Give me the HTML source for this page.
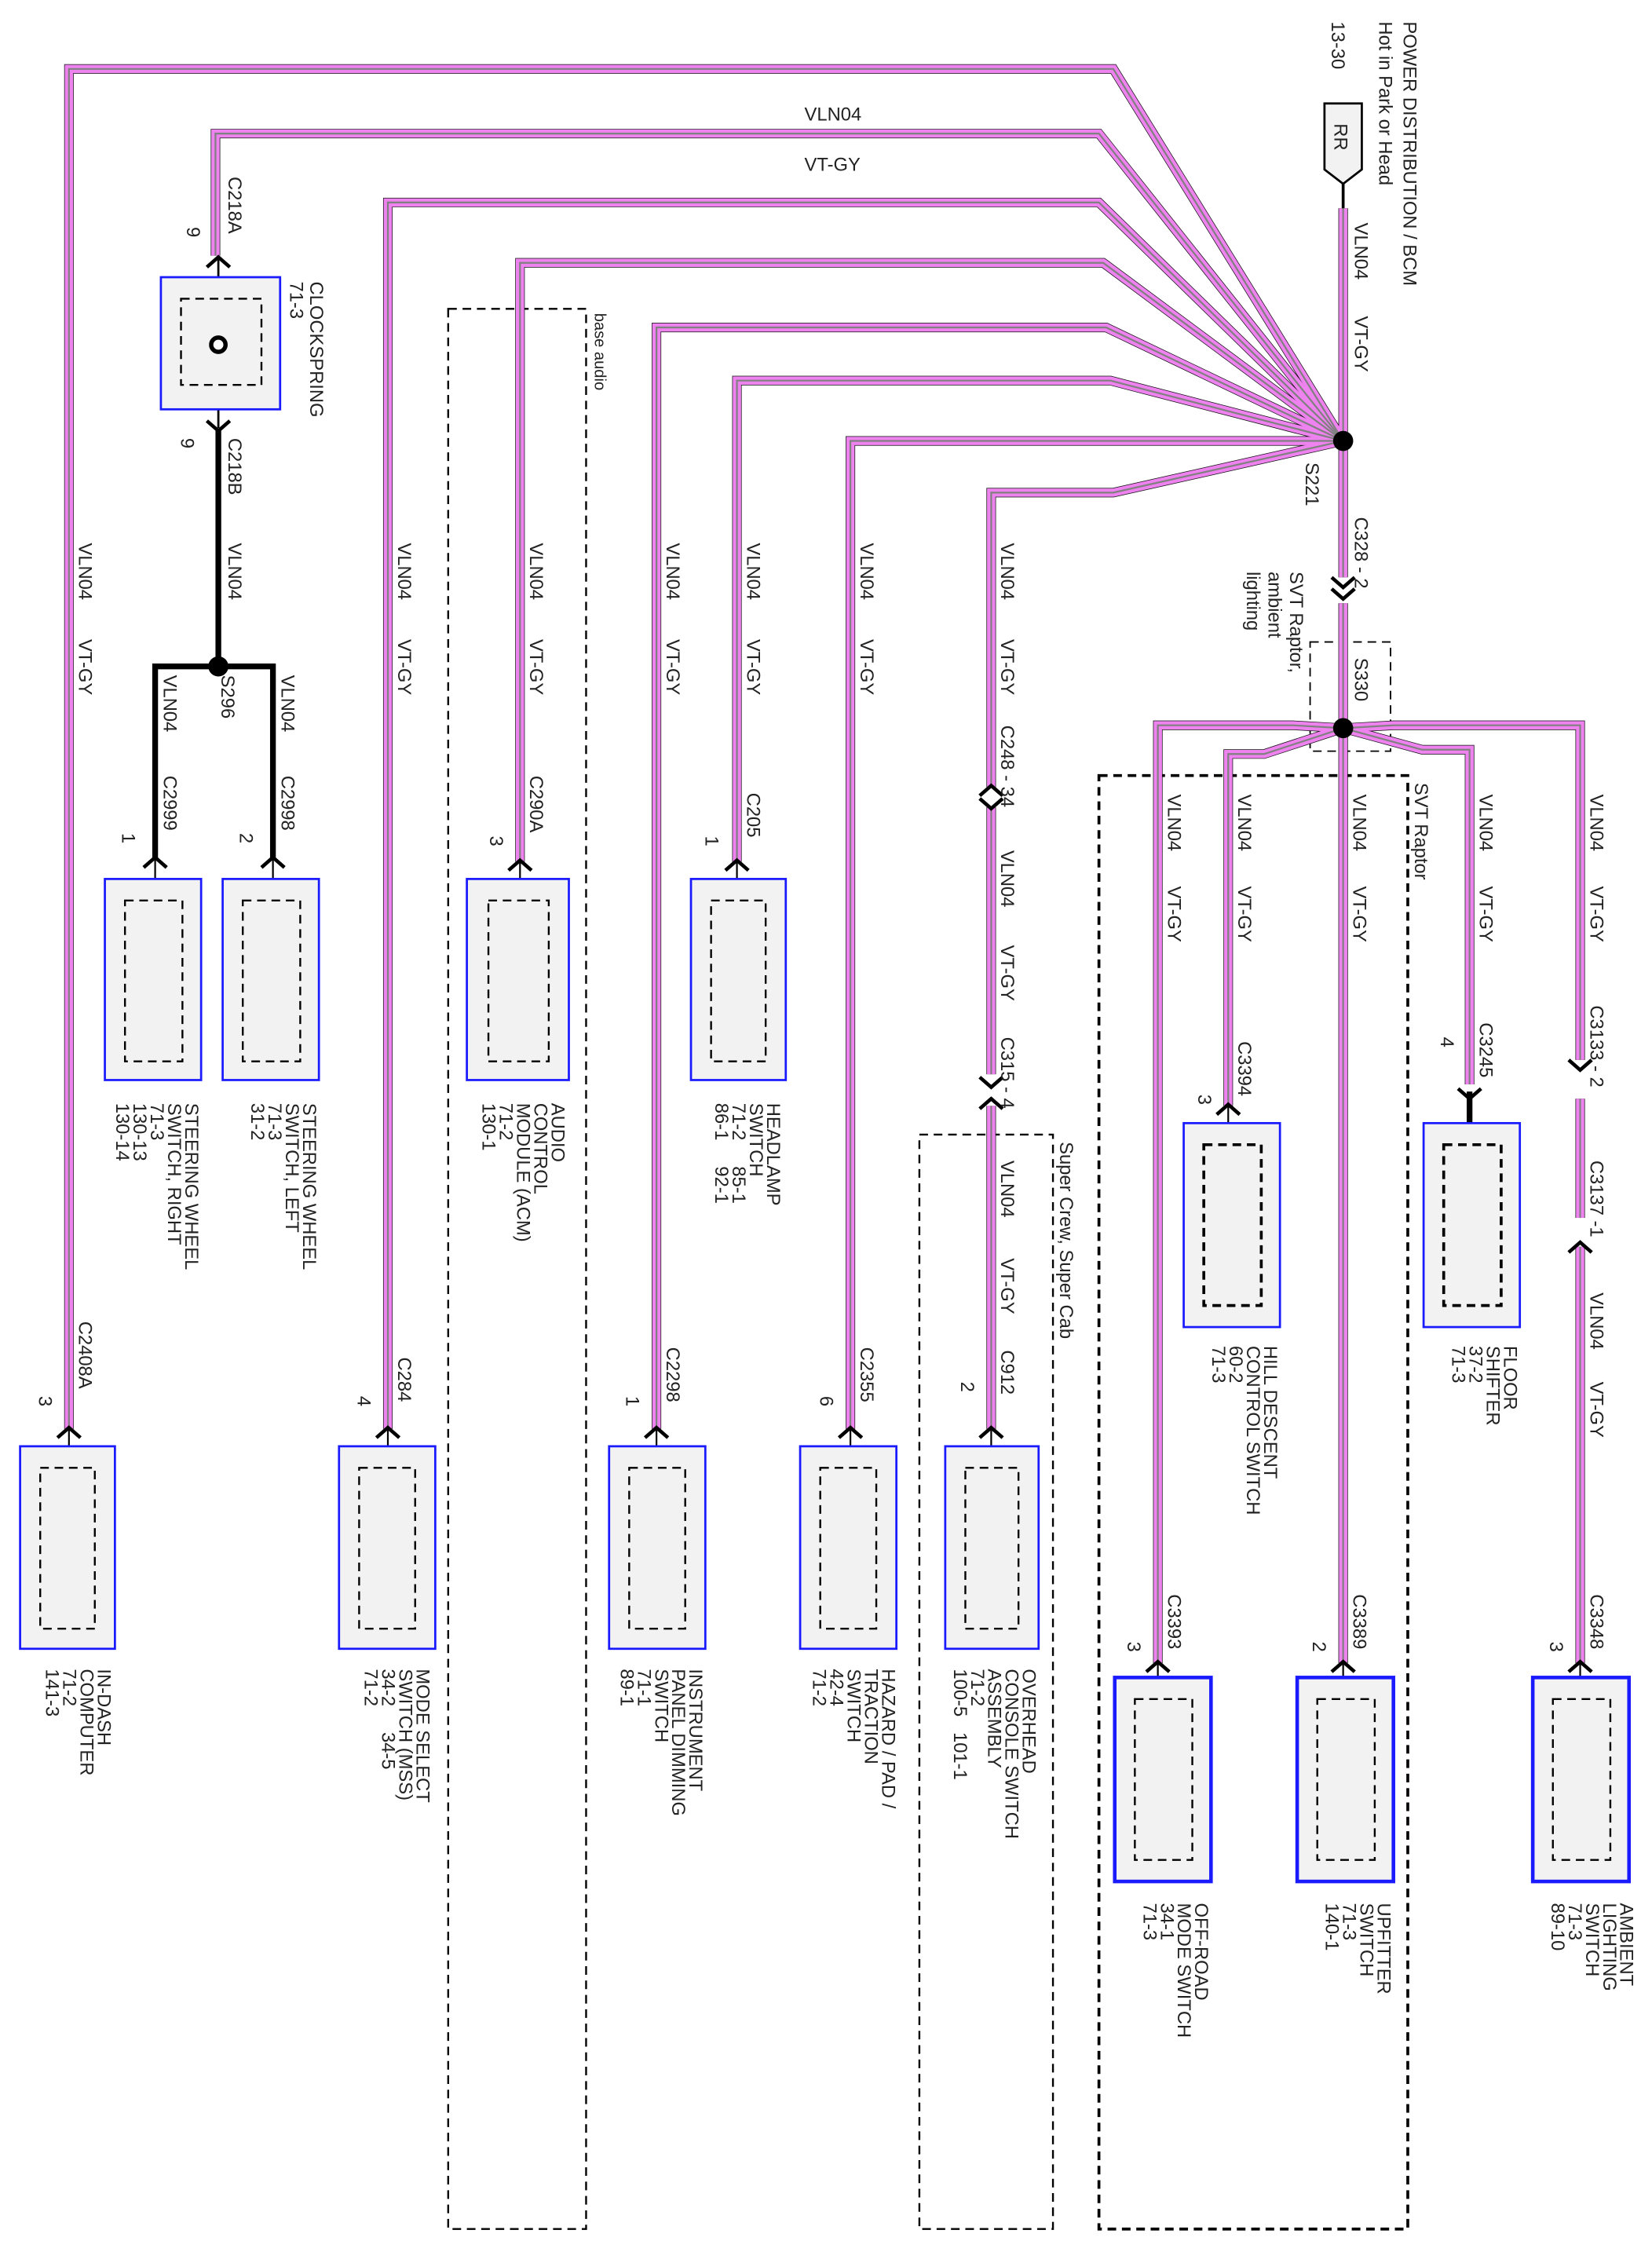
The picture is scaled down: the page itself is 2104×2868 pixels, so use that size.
<!DOCTYPE html>
<html><head><meta charset="utf-8"><style>
html,body{margin:0;padding:0;background:#fff;}
svg{display:block;}
text{font-family:"Liberation Sans",sans-serif;font-size:13px;fill:#222;white-space:pre;}
</style></head><body>
<svg width="2104" height="2868" viewBox="0 0 1150 1568" preserveAspectRatio="none" xmlns="http://www.w3.org/2000/svg">
<defs>
<path id="w1" d="M48 995 V48 H775 L935 307"/>
<path id="w2" d="M150 178 V93 H765 L935 307"/>
<path id="w3" d="M270 995 V141 H765 L935 307"/>
<path id="w4" d="M362 600 V183 H768 L935 307"/>
<path id="w5" d="M457 995 V228 H770 L935 307"/>
<path id="w6" d="M513 600 V265 H773 L935 307"/>
<path id="w7" d="M592 995 V307 H935"/>
<path id="w8" d="M690 548 V343 H775 L935 307"/>
<path id="w0" d="M935 145 V402 M935 420 V507"/>
<path id="r1" d="M806 1158 V505 H900 L935 507"/>
<path id="r2" d="M855 770 V525 H880 L935 507"/>
<path id="r3" d="M935 507 V1158"/>
<path id="r4" d="M1023 755 V522 H990 L935 507"/>
<path id="r5" d="M1100 738 V505 H970 L935 507 M1100 765 V848 M1100 868 V1158"/>
<path id="r6" d="M690 562 V748 M690 770 V995"/>
<g id="wires" fill="none" stroke-linejoin="miter">
<use href="#w1"/><use href="#w2"/><use href="#w3"/><use href="#w4"/><use href="#w5"/><use href="#w6"/><use href="#w7"/><use href="#w8"/><use href="#w0"/>
<use href="#r1"/><use href="#r2"/><use href="#r3"/><use href="#r4"/><use href="#r5"/><use href="#r6"/>
</g>
</defs>
<g fill="none" stroke="#000" stroke-dasharray="6,4" stroke-width="1.3">
<rect x="312" y="215" width="96" height="1337"/>
<rect x="640" y="790" width="93" height="762"/>
<rect x="765" y="540" width="215" height="1012" stroke-width="2"/>
<rect x="912" y="447" width="56" height="76" stroke-width="1"/>
</g>
<use href="#wires" stroke="#111" stroke-width="6.6"/>
<use href="#wires" stroke="#ee82ee" stroke-width="5.8"/>
<use href="#wires" stroke="#808080" stroke-width="1.2"/>
<g fill="none" stroke="#000">
<path d="M935 118 V145" stroke-width="2"/>
<path d="M152 300 V464" stroke-width="4"/>
<path d="M108 598 V464 H190 V598" stroke-width="4"/>
<path d="M1023 760 V782" stroke-width="4"/>
<path d="M152 180 V298" stroke-width="1.5"/>
<path d="M48 995 V1025 M270 995 V1025 M457 995 V1025 M592 995 V1025 M690 995 V1025 M362 600 V630 M513 600 V630 M108 598 V630 M190 598 V630 M806 1158 V1185 M855 770 V800 M935 1158 V1185 M1100 1158 V1185" stroke-width="1.2"/>
</g>
<path d="M922 72 H948 V118 L935 128 L922 118 Z" fill="#f2f2f2" stroke="#000" stroke-width="1.5"/>
<text transform="translate(929,86) rotate(90)">RR</text>
<circle cx="935" cy="307" r="7" fill="#000"/>
<circle cx="935" cy="507" r="7" fill="#000"/>
<circle cx="152" cy="464" r="7" fill="#000"/>
<g fill="#f2f2f2" stroke="#1a1aff" stroke-width="1.5">
<rect x="112" y="193" width="83" height="92"/>
<rect x="73" y="612" width="67" height="140"/>
<rect x="155" y="612" width="67" height="140"/>
<rect x="325" y="612" width="71" height="140"/>
<rect x="481" y="612" width="66" height="140"/>
<rect x="14" y="1007" width="66" height="141"/>
<rect x="236" y="1007" width="67" height="141"/>
<rect x="424" y="1007" width="67" height="141"/>
<rect x="557" y="1007" width="67" height="141"/>
<rect x="658" y="1007" width="65" height="141"/>
<rect x="824" y="782" width="67" height="142"/>
<rect x="991" y="782" width="67" height="142"/>
<rect x="776" y="1168" width="67" height="142" stroke-width="2.5"/>
<rect x="903" y="1168" width="67" height="142" stroke-width="2.5"/>
<rect x="1067" y="1168" width="67" height="142" stroke-width="2.5"/>
</g>
<g fill="none" stroke="#000" stroke-width="1.3" stroke-dasharray="6,4">
<rect x="126" y="208" width="56" height="60"/>
<rect x="87" y="627" width="40" height="112"/>
<rect x="169" y="627" width="40" height="112"/>
<rect x="340" y="627" width="42" height="112"/>
<rect x="495" y="627" width="38" height="112"/>
<rect x="28" y="1022" width="38" height="112"/>
<rect x="250" y="1022" width="39" height="112"/>
<rect x="438" y="1022" width="39" height="112"/>
<rect x="571" y="1022" width="39" height="112"/>
<rect x="672" y="1022" width="37" height="112"/>
<rect x="838" y="797" width="40" height="112" stroke-width="2"/>
<rect x="1005" y="797" width="40" height="112" stroke-width="2"/>
<rect x="790" y="1183" width="40" height="112"/>
<rect x="917" y="1183" width="40" height="112"/>
<rect x="1081" y="1183" width="40" height="112"/>
</g>
<circle cx="152" cy="240" r="5" fill="#fff" stroke="#000" stroke-width="3"/>
<g fill="none" stroke="#000" stroke-width="2.5">
<path d="M144 186 L152 179 L160 186"/>
<path d="M144 293 L152 300 L160 293"/>
<path d="M100 604 L108 597 L116 604"/>
<path d="M182 604 L190 597 L198 604"/>
<path d="M354 606 L362 599 L370 606"/>
<path d="M505 606 L513 599 L521 606"/>
<path d="M40 1001 L48 994 L56 1001"/>
<path d="M262 1001 L270 994 L278 1001"/>
<path d="M449 1001 L457 994 L465 1001"/>
<path d="M584 1001 L592 994 L600 1001"/>
<path d="M682 1001 L690 994 L698 1001"/>
<path d="M682 554 L690 547 L698 554"/>
<path d="M682 556 L690 563 L698 556"/>
<path d="M682 750 L690 757 L698 750"/>
<path d="M682 772 L690 765 L698 772"/>
<path d="M927 402 L935 409 L943 402"/>
<path d="M927 410 L935 417 L943 410"/>
<path d="M798 1164 L806 1157 L814 1164"/>
<path d="M847 776 L855 769 L863 776"/>
<path d="M927 1164 L935 1157 L943 1164"/>
<path d="M1015 758 L1023 765 L1031 758"/>
<path d="M1092 738 L1100 745 L1108 738"/>
<path d="M1092 872 L1100 865 L1108 872"/>
<path d="M1092 1164 L1100 1157 L1108 1164"/>
</g>
<text x="560" y="84">VLN04</text>
<text x="560" y="119">VT-GY</text>
<text transform="translate(977,15) rotate(90)">POWER DISTRIBUTION / BCM</text>
<text transform="translate(960,15) rotate(90)">Hot in Park or Head</text>
<text transform="translate(927,15) rotate(90)">13-30</text>
<text transform="translate(943,155) rotate(90)">VLN04</text>
<text transform="translate(943,220) rotate(90)">VT-GY</text>
<text transform="translate(909,322) rotate(90)">S221</text>
<text transform="translate(943,360) rotate(90)">C328 - 2</text>
<text transform="translate(898,398) rotate(90)">SVT Raptor,</text>
<text transform="translate(883,398) rotate(90)">ambient</text>
<text transform="translate(868,398) rotate(90)">lighting</text>
<text transform="translate(943,458) rotate(90)">S330</text>
<text transform="translate(985,545) rotate(90)">SVT Raptor</text>
<text transform="translate(414,218) rotate(90)" style="font-size:11px">base audio</text>
<text transform="translate(738,795) rotate(90)">Super Crew, Super Cab</text>
<text transform="translate(159,123) rotate(90)">C218A</text>
<text transform="translate(130,158) rotate(90)">9</text>
<text transform="translate(159,305) rotate(90)">C218B</text>
<text transform="translate(126,305) rotate(90)">9</text>
<text transform="translate(216,196) rotate(90)">CLOCKSPRING</text>
<text transform="translate(202,196) rotate(90)">71-3</text>
<text transform="translate(159,378) rotate(90)">VLN04</text>
<text transform="translate(154,470) rotate(90)">S296</text>
<text transform="translate(114,470) rotate(90)">VLN04</text>
<text transform="translate(196,470) rotate(90)">VLN04</text>
<text transform="translate(114,540) rotate(90)">C2999</text>
<text transform="translate(196,540) rotate(90)">C2998</text>
<text transform="translate(85,580) rotate(90)">1</text>
<text transform="translate(167,580) rotate(90)">2</text>
<g>
<text transform="translate(55,378) rotate(90)">VLN04</text><text transform="translate(55,445) rotate(90)">VT-GY</text>
<text transform="translate(277,378) rotate(90)">VLN04</text><text transform="translate(277,445) rotate(90)">VT-GY</text>
<text transform="translate(369,378) rotate(90)">VLN04</text><text transform="translate(369,445) rotate(90)">VT-GY</text>
<text transform="translate(464,378) rotate(90)">VLN04</text><text transform="translate(464,445) rotate(90)">VT-GY</text>
<text transform="translate(520,378) rotate(90)">VLN04</text><text transform="translate(520,445) rotate(90)">VT-GY</text>
<text transform="translate(599,378) rotate(90)">VLN04</text><text transform="translate(599,445) rotate(90)">VT-GY</text>
<text transform="translate(697,378) rotate(90)">VLN04</text><text transform="translate(697,445) rotate(90)">VT-GY</text>
<text transform="translate(697,505) rotate(90)">C248 - 34</text>
<text transform="translate(697,592) rotate(90)">VLN04</text><text transform="translate(697,658) rotate(90)">VT-GY</text>
<text transform="translate(697,722) rotate(90)">C315 - 4</text>
<text transform="translate(697,808) rotate(90)">VLN04</text><text transform="translate(697,876) rotate(90)">VT-GY</text>
<text transform="translate(697,940) rotate(90)">C912</text>
<text transform="translate(813,553) rotate(90)">VLN04</text><text transform="translate(813,617) rotate(90)">VT-GY</text>
<text transform="translate(862,553) rotate(90)">VLN04</text><text transform="translate(862,617) rotate(90)">VT-GY</text>
<text transform="translate(942,553) rotate(90)">VLN04</text><text transform="translate(942,617) rotate(90)">VT-GY</text>
<text transform="translate(1030,553) rotate(90)">VLN04</text><text transform="translate(1030,617) rotate(90)">VT-GY</text>
<text transform="translate(1107,553) rotate(90)">VLN04</text><text transform="translate(1107,617) rotate(90)">VT-GY</text>
<text transform="translate(1107,700) rotate(90)">C3133 - 2</text>
<text transform="translate(1107,808) rotate(90)">C3137 -1</text>
<text transform="translate(1107,900) rotate(90)">VLN04</text><text transform="translate(1107,962) rotate(90)">VT-GY</text>
</g>
<text transform="translate(55,920) rotate(90)">C2408A</text><text transform="translate(27,972) rotate(90)">3</text>
<text transform="translate(277,945) rotate(90)">C284</text><text transform="translate(249,972) rotate(90)">4</text>
<text transform="translate(369,540) rotate(90)">C290A</text><text transform="translate(341,582) rotate(90)">3</text>
<text transform="translate(464,938) rotate(90)">C2298</text><text transform="translate(436,972) rotate(90)">1</text>
<text transform="translate(520,552) rotate(90)">C205</text><text transform="translate(491,582) rotate(90)">1</text>
<text transform="translate(599,938) rotate(90)">C2355</text><text transform="translate(571,972) rotate(90)">6</text>
<text transform="translate(669,962) rotate(90)">2</text>
<text transform="translate(862,725) rotate(90)">C3394</text><text transform="translate(834,762) rotate(90)">3</text>
<text transform="translate(1030,712) rotate(90)">C3245</text><text transform="translate(1003,722) rotate(90)">4</text>
<text transform="translate(813,1110) rotate(90)">C3393</text><text transform="translate(785,1143) rotate(90)">3</text>
<text transform="translate(942,1110) rotate(90)">C3389</text><text transform="translate(914,1143) rotate(90)">2</text>
<text transform="translate(1107,1110) rotate(90)">C3348</text><text transform="translate(1079,1143) rotate(90)">3</text>
<g>
<text transform="translate(129,768) rotate(90)">STEERING WHEEL</text>
<text transform="translate(117,768) rotate(90)">SWITCH, RIGHT</text>
<text transform="translate(105,768) rotate(90)">71-3</text>
<text transform="translate(93,768) rotate(90)">130-13</text>
<text transform="translate(81,768) rotate(90)">130-14</text>
<text transform="translate(211,768) rotate(90)">STEERING WHEEL</text>
<text transform="translate(199,768) rotate(90)">SWITCH, LEFT</text>
<text transform="translate(187,768) rotate(90)">71-3</text>
<text transform="translate(175,768) rotate(90)">31-2</text>
<text transform="translate(384,768) rotate(90)">AUDIO</text>
<text transform="translate(372,768) rotate(90)">CONTROL</text>
<text transform="translate(360,768) rotate(90)">MODULE (ACM)</text>
<text transform="translate(348,768) rotate(90)">71-2</text>
<text transform="translate(336,768) rotate(90)">130-1</text>
<text transform="translate(534,768) rotate(90)">HEADLAMP</text>
<text transform="translate(522,768) rotate(90)">SWITCH</text>
<text transform="translate(510,768) rotate(90)">71-2     85-1</text>
<text transform="translate(498,768) rotate(90)">86-1     92-1</text>
<text transform="translate(68,1162) rotate(90)">IN-DASH</text>
<text transform="translate(56,1162) rotate(90)">COMPUTER</text>
<text transform="translate(44,1162) rotate(90)">71-2</text>
<text transform="translate(32,1162) rotate(90)">141-3</text>
<text transform="translate(290,1162) rotate(90)">MODE SELECT</text>
<text transform="translate(278,1162) rotate(90)">SWITCH (MSS)</text>
<text transform="translate(266,1162) rotate(90)">34-2     34-5</text>
<text transform="translate(254,1162) rotate(90)">71-2</text>
<text transform="translate(480,1162) rotate(90)">INSTRUMENT</text>
<text transform="translate(468,1162) rotate(90)">PANEL DIMMING</text>
<text transform="translate(456,1162) rotate(90)">SWITCH</text>
<text transform="translate(444,1162) rotate(90)">71-1</text>
<text transform="translate(432,1162) rotate(90)">89-1</text>
<text transform="translate(614,1162) rotate(90)">HAZARD / PAD /</text>
<text transform="translate(602,1162) rotate(90)">TRACTION</text>
<text transform="translate(590,1162) rotate(90)">SWITCH</text>
<text transform="translate(578,1162) rotate(90)">42-4</text>
<text transform="translate(566,1162) rotate(90)">71-2</text>
<text transform="translate(712,1162) rotate(90)">OVERHEAD</text>
<text transform="translate(700,1162) rotate(90)">CONSOLE SWITCH</text>
<text transform="translate(688,1162) rotate(90)">ASSEMBLY</text>
<text transform="translate(676,1162) rotate(90)">71-2</text>
<text transform="translate(664,1162) rotate(90)">100-5   101-1</text>
<text transform="translate(880,937) rotate(90)">HILL DESCENT</text>
<text transform="translate(868,937) rotate(90)">CONTROL SWITCH</text>
<text transform="translate(856,937) rotate(90)">60-2</text>
<text transform="translate(844,937) rotate(90)">71-3</text>
<text transform="translate(1047,937) rotate(90)">FLOOR</text>
<text transform="translate(1035,937) rotate(90)">SHIFTER</text>
<text transform="translate(1023,937) rotate(90)">37-2</text>
<text transform="translate(1011,937) rotate(90)">71-3</text>
<text transform="translate(832,1325) rotate(90)">OFF-ROAD</text>
<text transform="translate(820,1325) rotate(90)">MODE SWITCH</text>
<text transform="translate(808,1325) rotate(90)">34-1</text>
<text transform="translate(796,1325) rotate(90)">71-3</text>
<text transform="translate(959,1325) rotate(90)">UPFITTER</text>
<text transform="translate(947,1325) rotate(90)">SWITCH</text>
<text transform="translate(935,1325) rotate(90)">71-3</text>
<text transform="translate(923,1325) rotate(90)">140-1</text>
<text transform="translate(1128,1325) rotate(90)">AMBIENT</text>
<text transform="translate(1116,1325) rotate(90)">LIGHTING</text>
<text transform="translate(1104,1325) rotate(90)">SWITCH</text>
<text transform="translate(1092,1325) rotate(90)">71-3</text>
<text transform="translate(1080,1325) rotate(90)">89-10</text>
</g>
</svg>
</body></html>
